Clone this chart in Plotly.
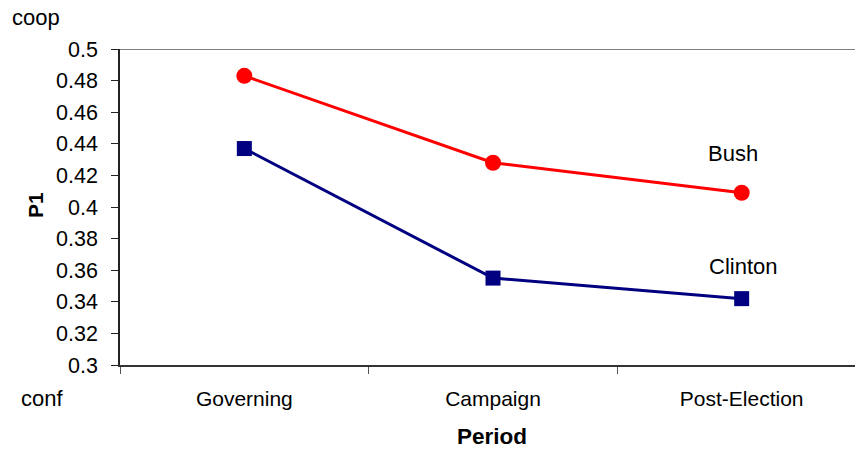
import plotly.graph_objects as go

periods = ["Governing", "Campaign", "Post-Election"]
bush = [0.483, 0.428, 0.409]
clinton = [0.437, 0.355, 0.342]
y_ticks = [0.3, 0.32, 0.34, 0.36, 0.38, 0.4, 0.42, 0.44, 0.46, 0.48, 0.5]
y_tick_text = ["0.3", "0.32", "0.34", "0.36", "0.38", "0.4", "0.42", "0.44", "0.46", "0.48", "0.5"]

W, H = 855, 450
L, R, T, B = 120, 0, 49, 450 - 365
pw, ph = W - L - R, H - T - B

def px(x):
    return (x - L) / pw

def py(y):
    return (H - B - y) / ph

FONT = "Liberation Sans, Arial, sans-serif"

fig = go.Figure()
fig.add_trace(go.Scatter(
    x=periods, y=bush, mode="lines+markers", name="Bush",
    line=dict(color="#FF0000", width=3),
    marker=dict(symbol="circle", size=16, color="#FF0000"),
))
fig.add_trace(go.Scatter(
    x=periods, y=clinton, mode="lines+markers", name="Clinton",
    line=dict(color="#000080", width=3),
    marker=dict(symbol="square", size=15, color="#000080"),
))

fig.update_layout(
    width=W, height=H,
    margin=dict(l=L, r=R, t=T, b=B),
    paper_bgcolor="white", plot_bgcolor="white",
    showlegend=False,
    font=dict(family=FONT, size=20, color="black"),
    xaxis=dict(
        type="category", range=[-0.5, -0.5 + 3 * pw / 746],
        showgrid=False, zeroline=False,
        showline=True, linecolor="#333333", linewidth=1.5,
        ticks="outside", tickson="boundaries", ticklen=7, tickcolor="#555555",
        tickfont=dict(size=21, family=FONT), ticklabelstandoff=14,
    ),
    yaxis=dict(
        range=[0.3, 0.5], tickvals=y_ticks, ticktext=y_tick_text,
        showgrid=False, zeroline=False,
        showline=True, linecolor="#222222", linewidth=1.5,
        ticks="outside", ticklen=7, tickcolor="#222222",
        tickfont=dict(size=21.5, family=FONT), ticklabelstandoff=9,
    ),
)

# top border line at 0.5
fig.add_shape(type="line", xref="paper", yref="y", x0=0, x1=1, y0=0.5, y1=0.5,
              line=dict(color="#808080", width=2))

ann = [
    dict(text="coop", x=px(36), y=py(18), size=22),
    dict(text="conf", x=px(42), y=py(398), size=22),
    dict(text="<b>Period</b>", x=px(492), y=py(437), size=22.5),
    dict(text="Bush", x=px(733), y=py(153), size=22),
    dict(text="Clinton", x=px(743), y=py(266), size=22),
]
for a in ann:
    fig.add_annotation(text=a["text"], xref="paper", yref="paper", x=a["x"], y=a["y"],
                       xanchor="center", yanchor="middle", showarrow=False,
                       font=dict(family=FONT, size=a["size"], color="black"))
fig.add_annotation(text="<b>P1</b>", xref="paper", yref="paper", x=px(35), y=py(205),
                   xanchor="center", yanchor="middle", showarrow=False, textangle=-90,
                   font=dict(family=FONT, size=21, color="black"))

fig.write_html("out.html",
               config={"displayModeBar": False},
               post_script="document.body.style.margin='0px';document.body.style.overflow='hidden';")
